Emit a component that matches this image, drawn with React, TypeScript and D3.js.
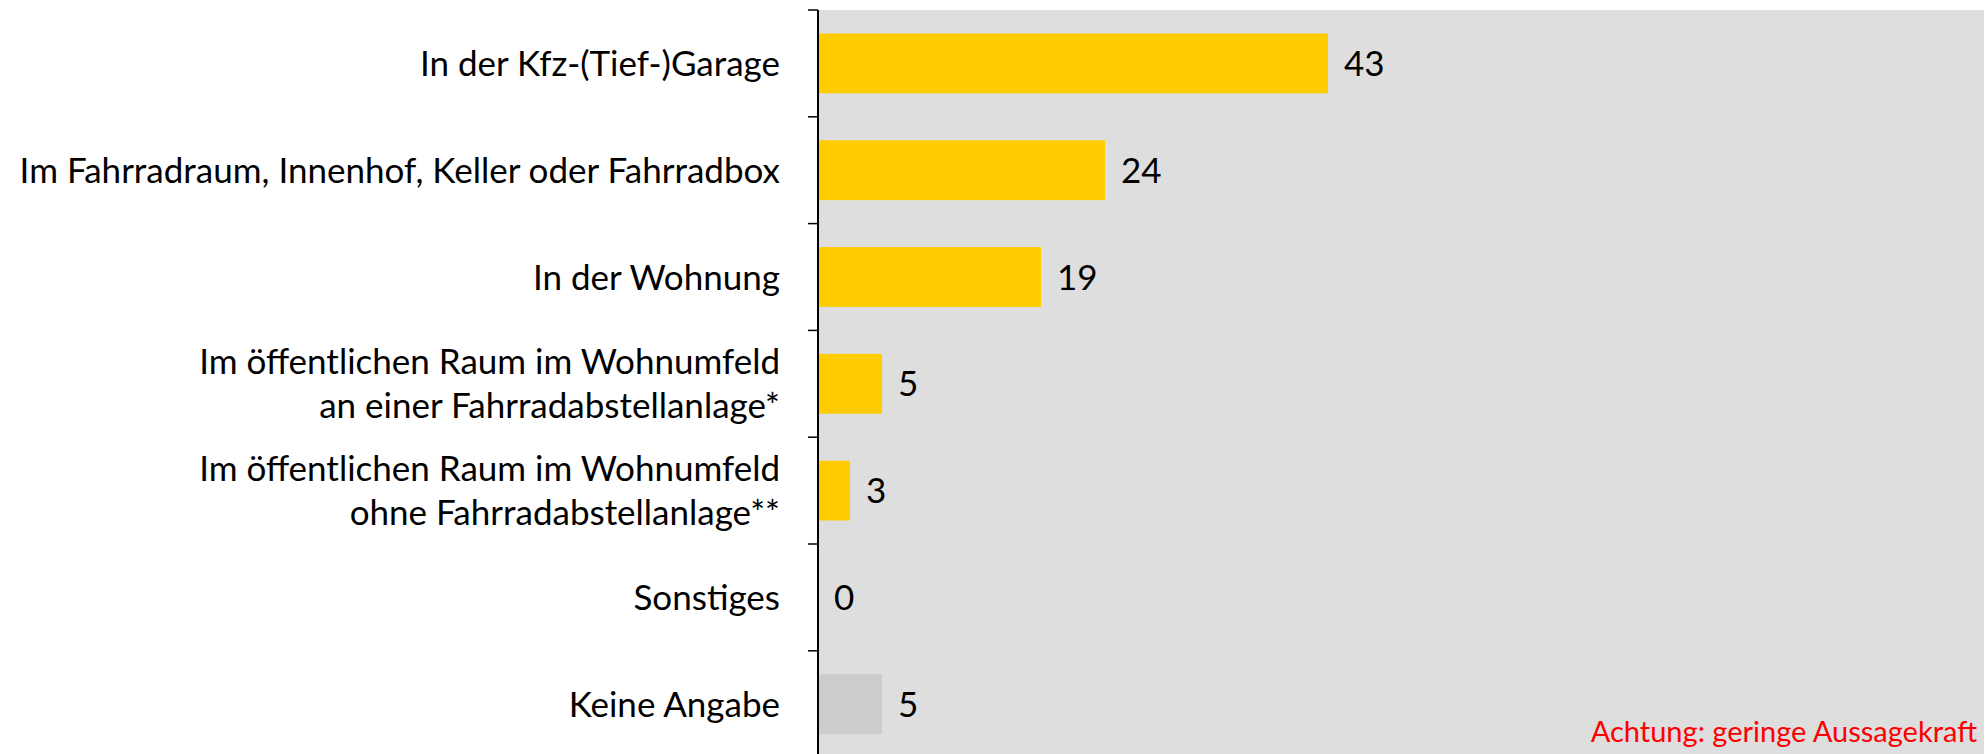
import React from "react";
import * as d3 from "d3";

// Abstellort des Fahrrads (Anteile in %)
const categories = [
  "In der Kfz-(Tief-)Garage",
  "Im Fahrradraum, Innenhof, Keller oder Fahrradbox",
  "In der Wohnung",
  "Im öffentlichen Raum im Wohnumfeld\nan einer Fahrradabstellanlage*",
  "Im öffentlichen Raum im Wohnumfeld\nohne Fahrradabstellanlage**",
  "Sonstiges",
  "Keine Angabe",
];
const shares = [43.0, 24.2, 18.8, 5.4, 2.7, 0, 5.4];
const barColors = ["#FFCC00", "#FFCC00", "#FFCC00", "#FFCC00", "#FFCC00", "#FFCC00", "#CCCCCC"];
const xMax = 98.3;
const note = "Achtung: geringe Aussagekraft";

const width = 1985;
const height = 754;
const margin = { top: 10, left: 818, right: 1 };
const plotBottom = 757.6;
const font = "Lato, 'Open Sans', sans-serif";

export default function App() {
  const x = d3
    .scaleLinear()
    .domain([0, xMax])
    .range([margin.left, width - margin.right]);

  const y = d3
    .scaleBand<string>()
    .domain(categories)
    .range([margin.top, plotBottom])
    .paddingInner(0.44)
    .paddingOuter(0.22);

  const step = y.step();
  const bandTop = (i: number) => margin.top + i * step;
  const ticks = d3.range(categories.length + 1).map(bandTop);

  return (
    <svg
      width={width}
      height={height}
      style={{ position: "absolute", left: 0, top: 0, display: "block" }}
      fontFamily={font}
    >
      <rect x={0} y={0} width={width} height={height} fill="#ffffff" />
      {/* plot area */}
      <rect
        x={x(0)}
        y={margin.top}
        width={x(xMax) - x(0)}
        height={height - margin.top}
        fill="#DEDEDE"
      />

      {/* bars */}
      {categories.map((c, i) => (
        <rect
          key={c}
          x={x(0)}
          y={y(c)}
          width={x(shares[i]) - x(0)}
          height={y.bandwidth()}
          fill={barColors[i]}
        />
      ))}

      {/* value labels */}
      {categories.map((c, i) => (
        <text
          key={"v" + c}
          x={x(shares[i]) + 16}
          y={(y(c) ?? 0) + y.bandwidth() / 2}
          dy="0.36em"
          fontSize={35}
          fill="#000"
        >
          {Math.round(shares[i])}
        </text>
      ))}

      {/* category labels */}
      {categories.map((c) => {
        const lines = c.split("\n");
        const cy = (y(c) ?? 0) + y.bandwidth() / 2;
        const lh = 44;
        return (
          <text key={"l" + c} textAnchor="end" fontSize={35} fill="#000">
            {lines.map((ln, j) => (
              <tspan
                key={j}
                x={780}
                y={cy + (j - (lines.length - 1) / 2) * lh}
                dy="0.36em"
              >
                {ln}
              </tspan>
            ))}
          </text>
        );
      })}

      {/* axis */}
      <line
        x1={x(0)}
        x2={x(0)}
        y1={margin.top}
        y2={height}
        stroke="#000"
        strokeWidth={2}
      />
      {ticks.map((t, i) => (
        <line
          key={"t" + i}
          x1={x(0) - 10}
          x2={x(0)}
          y1={t}
          y2={t}
          stroke="#000"
          strokeWidth={1.5}
        />
      ))}

      <text x={width - 8} y={742} textAnchor="end" fontSize={29} fill="#FF0000">
        {note}
      </text>
    </svg>
  );
}
